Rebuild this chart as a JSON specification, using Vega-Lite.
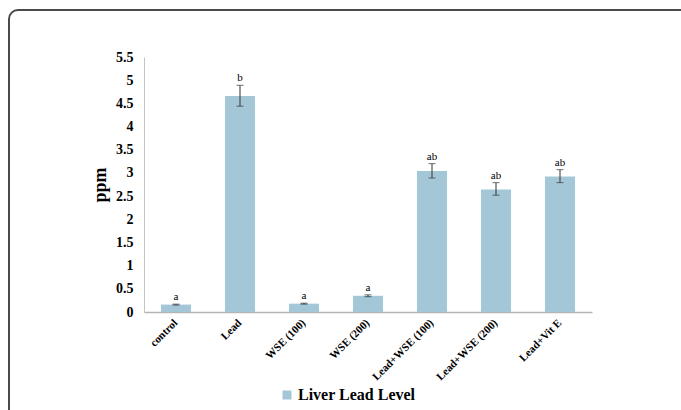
{
  "$schema": "https://vega.github.io/schema/vega-lite/v6.json",
  "autosize": "none",
  "width": 690,
  "height": 420,
  "padding": {"left": 9, "top": 10, "right": 0, "bottom": 0},
  "background": "white",
  "view": {"stroke": "#4a4a4a", "strokeWidth": 2, "cornerRadius": 9},
  "config": {
    "font": "Liberation Serif",
    "axisY": {
      "orient": "left",
      "offset": -135,
      "values": [0, 0.5, 1, 1.5, 2, 2.5, 3, 3.5, 4, 4.5, 5, 5.5],
      "format": "~g",
      "labelOverlap": false,
      "grid": false,
      "ticks": false,
      "domainColor": "#c4c4c4",
      "labelFont": "Liberation Serif",
      "labelFontWeight": "bold",
      "labelFontSize": 14,
      "labelColor": "#000000",
      "labelPadding": 11,
      "titleFont": "Liberation Serif",
      "titleFontWeight": "bold",
      "titleFontSize": 18,
      "titleColor": "#000000",
      "titlePadding": 6
    }
  },
  "data": {
    "values": [
      {"group": "control", "ppm": 0.16, "lo": 0.15, "hi": 0.17, "letter": "a", "series": "Liver Lead Level"},
      {"group": "Lead", "ppm": 4.66, "lo": 4.44, "hi": 4.89, "letter": "b", "series": "Liver Lead Level"},
      {"group": "WSE (100)", "ppm": 0.18, "lo": 0.17, "hi": 0.19, "letter": "a", "series": "Liver Lead Level"},
      {"group": "WSE (200)", "ppm": 0.35, "lo": 0.33, "hi": 0.37, "letter": "a", "series": "Liver Lead Level"},
      {"group": "Lead+WSE (100)", "ppm": 3.04, "lo": 2.89, "hi": 3.2, "letter": "ab", "series": "Liver Lead Level"},
      {"group": "Lead+WSE (200)", "ppm": 2.64, "lo": 2.52, "hi": 2.79, "letter": "ab", "series": "Liver Lead Level"},
      {"group": "Lead+Vit E", "ppm": 2.92, "lo": 2.79, "hi": 3.07, "letter": "ab", "series": "Liver Lead Level"}
    ]
  },
  "encoding": {
    "x": {
      "field": "group",
      "type": "nominal",
      "sort": null,
      "scale": {"range": [135, 583], "paddingInner": 0.53, "paddingOuter": 0.265},
      "axis": {
        "orient": "bottom",
        "offset": -118,
        "title": null,
        "domainColor": "#b5b5b5",
        "domainWidth": 1.5,
        "ticks": false,
        "labelAngle": -45,
        "labelAlign": "right",
        "labelBaseline": "middle",
        "labelFont": "Liberation Serif",
        "labelFontWeight": "bold",
        "labelFontSize": 11,
        "labelColor": "#000000",
        "labelPadding": 9
      }
    }
  },
  "layer": [
    {
      "mark": {"type": "bar"},
      "encoding": {
        "y": {
          "field": "ppm",
          "type": "quantitative",
          "title": "ppm",
          "scale": {"domain": [0, 5.5], "range": [302, 47], "nice": false}
        },
        "color": {
          "field": "series",
          "type": "nominal",
          "scale": {"range": ["#a4c7d8"]},
          "legend": {
            "orient": "none",
            "legendX": 270,
            "legendY": 377,
            "title": null,
            "symbolType": "square",
            "symbolSize": 81,
            "symbolStrokeWidth": 0,
            "labelFont": "Liberation Serif",
            "labelFontWeight": "bold",
            "labelFontSize": 16,
            "labelColor": "#000000",
            "labelOffset": 3
          }
        }
      }
    },
    {
      "mark": {
        "type": "errorbar",
        "color": "#333333",
        "ticks": {"size": 7, "thickness": 1},
        "rule": {"strokeWidth": 1}
      },
      "encoding": {
        "y": {"field": "lo", "type": "quantitative", "title": "ppm"},
        "y2": {"field": "hi"}
      }
    },
    {
      "mark": {"type": "text", "baseline": "bottom", "dy": -2, "fontSize": 11, "font": "Liberation Serif", "color": "#000000"},
      "encoding": {
        "y": {"field": "hi", "type": "quantitative", "title": "ppm"},
        "text": {"field": "letter"}
      }
    }
  ]
}
